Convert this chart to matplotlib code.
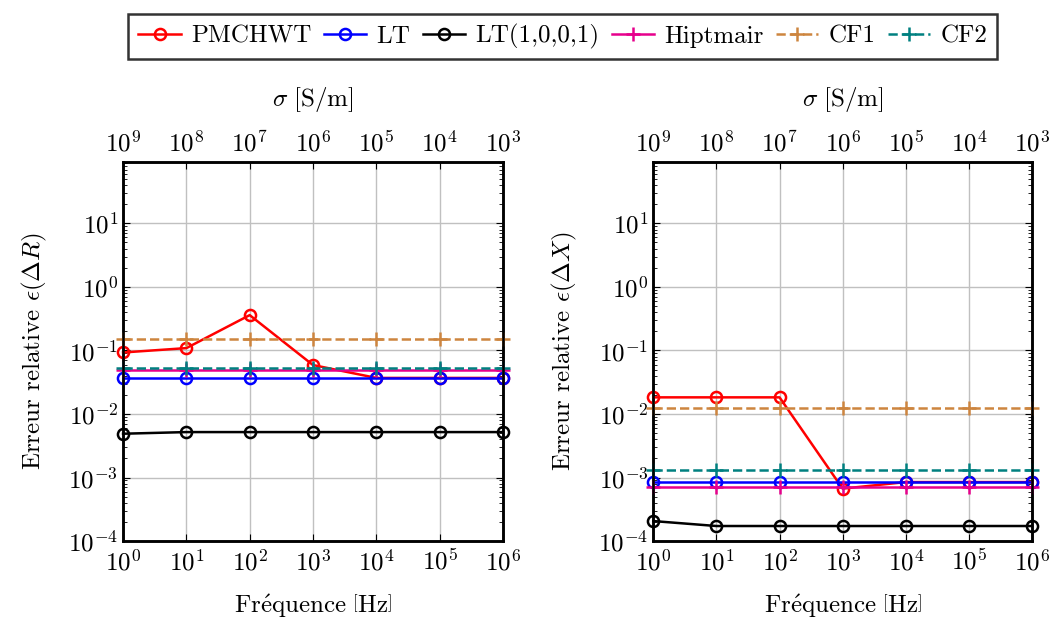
import matplotlib
matplotlib.use("Agg")
import matplotlib.pyplot as plt
import numpy as np

plt.rcParams['font.family'] = ['cmr10', 'DejaVu Serif']
plt.rcParams['mathtext.fontset'] = 'cm'
plt.rcParams['axes.formatter.use_mathtext'] = True
plt.rcParams['axes.unicode_minus'] = False

# --- data ---
freq = [1e0, 1e1, 1e2, 1e3, 1e4, 1e5, 1e6]

# left panel: epsilon(Delta R)
r_pmchwt = [0.093, 0.109, 0.36, 0.059, 0.037, 0.037, 0.037]
r_lt = [0.037, 0.037, 0.037, 0.037, 0.037, 0.037, 0.037]
r_lt1001 = [0.0049, 0.0052, 0.0052, 0.0052, 0.0052, 0.0052, 0.0052]
r_hiptmair = [0.049, 0.049, 0.049, 0.049, 0.049, 0.049, 0.049]
r_cf1 = [0.153, 0.153, 0.153, 0.153, 0.153, 0.153, 0.153]
r_cf2 = [0.053, 0.053, 0.053, 0.053, 0.053, 0.053, 0.053]

# right panel: epsilon(Delta X)
x_pmchwt = [0.0183, 0.0183, 0.0183, 0.00067, 0.00085, 0.00085, 0.00085]
x_lt = [0.00085, 0.00085, 0.00085, 0.00085, 0.00085, 0.00085, 0.00085]
x_lt1001 = [0.000207, 0.000173, 0.000173, 0.000173, 0.000173, 0.000173, 0.000173]
x_hiptmair = [0.00071, 0.00071, 0.00071, 0.00071, 0.00071, 0.00071, 0.00071]
x_cf1 = [0.0123, 0.0123, 0.0123, 0.0123, 0.0123, 0.0123, 0.0123]
x_cf2 = [0.00132, 0.00132, 0.00132, 0.00132, 0.00132, 0.00132, 0.00132]

labels = ['PMCHWT', 'LT', 'LT(1,0,0,1)', 'Hiptmair', 'CF1', 'CF2']
colors = ['#ff0000', '#0000ff', '#000000', '#e6008c', '#cd853f', '#008080']
markers = ['o', 'o', 'o', '+', '+', '+']
styles = ['-', '-', '-', '-', '--', '--']

sigma_ticks = [1e9, 1e8, 1e7, 1e6, 1e5, 1e4, 1e3]
fs = 18

fig = plt.figure(figsize=(10.52, 6.22), dpi=100)
ax_l = fig.add_axes([0.117, 0.130, 0.361, 0.610])
ax_r = fig.add_axes([0.621, 0.130, 0.360, 0.610])


def draw_panel(ax, series, ylabel):
    for y, lab, c, m, ls in zip(series, labels, colors, markers, styles):
        ax.plot(freq, y, color=c, marker=m, ls=ls, lw=1.8, ms=8 if m == 'o' else 10,
                mfc='none', mew=1.8, label=lab, clip_on=False, zorder=3)
    ax.set_xscale('log')
    ax.set_yscale('log')
    ax.set_xlim(1e0, 1e6)
    ax.set_ylim(1e-4, 10**1.97)
    ax.set_xticks(freq)
    ax.set_yticks([1e-4, 1e-3, 1e-2, 1e-1, 1e0, 1e1])
    ax.grid(True, which='major', color='#c0c0c0', lw=1.0)
    ax.tick_params(which='both', direction='in', top=False, right=True, labelsize=fs)
    ax.tick_params(axis='x', pad=6)
    ax.tick_params(which='major', length=5, width=0.8)
    ax.tick_params(which='minor', length=3, width=0.6)
    for s in ax.spines.values():
        s.set_linewidth(1.8)
    ax.set_xlabel(r'$\mathrm{Fr\acute{e}quence}\ \left[\mathrm{Hz}\right]$', fontsize=fs, labelpad=12)
    ax.set_ylabel(ylabel, fontsize=fs, labelpad=14)

    top = ax.twiny()
    top.set_xscale('log')
    top.set_xlim(sigma_ticks[0], sigma_ticks[-1])
    top.set_xticks(sigma_ticks)
    top.tick_params(which='both', direction='in', labelsize=fs)
    top.tick_params(which='major', length=5, width=0.8)
    top.tick_params(which='minor', length=3, width=0.6)
    top.set_xlabel(r'$\sigma\ \left[\mathrm{S/m}\right]$', fontsize=fs, labelpad=18)
    for s in top.spines.values():
        s.set_linewidth(1.8)


draw_panel(ax_l, [r_pmchwt, r_lt, r_lt1001, r_hiptmair, r_cf1, r_cf2],
           r'Erreur relative $\epsilon(\Delta R)$')
draw_panel(ax_r, [x_pmchwt, x_lt, x_lt1001, x_hiptmair, x_cf1, x_cf2],
           r'Erreur relative $\epsilon(\Delta X)$')

handles, labs = ax_l.get_legend_handles_labels()
leg = fig.legend(handles, labs, loc='upper center', bbox_to_anchor=(0.535, 0.985),
                 ncol=6, fontsize=fs, frameon=True, fancybox=False, edgecolor='black',
                 handlelength=1.7, handletextpad=0.4, columnspacing=0.5, borderpad=0.4,
                 borderaxespad=0.2)
leg.get_frame().set_linewidth(1.8)

fig.savefig('out.png', dpi=100)
